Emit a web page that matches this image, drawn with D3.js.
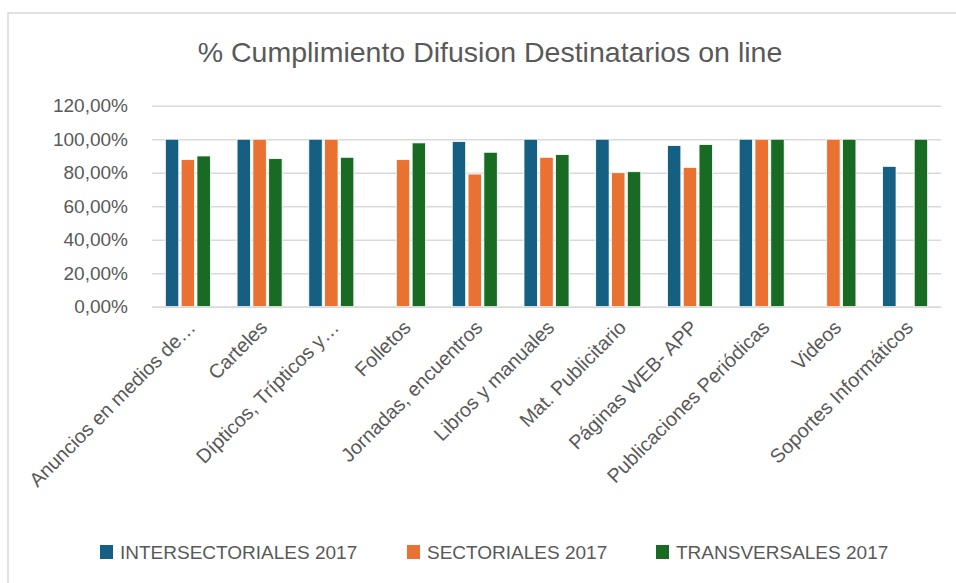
<!DOCTYPE html>
<html>
<head>
<meta charset="utf-8">
<script src="https://cdn.jsdelivr.net/npm/d3@7"></script>
<style>
  body { margin: 0; background: #fff; }
  text { font-family: "Liberation Sans", Arial, sans-serif; fill: #595959; }
</style>
</head>
<body>
<div id="container"></div>
<script>
/* CONSTANTS AND GLOBALS */
const width = 956, height = 583;
const margin = {top: 106, bottom: 277, left: 152, right: 15};

/* DATA */
const categories = ["Anuncios en medios de…", "Carteles", "Dípticos, Trípticos y…", "Folletos",
  "Jornadas, encuentros", "Libros y manuales", "Mat. Publicitario", "Páginas WEB- APP",
  "Publicaciones Periódicas", "Videos", "Soportes Informáticos"];
const seriesNames = ["INTERSECTORIALES 2017", "SECTORIALES 2017", "TRANSVERSALES 2017"];
// null = no bar
const intersectoriales = [1.00, 1.00, 1.00, null, 0.986, 1.00, 1.00, 0.962, 1.00, null, 0.838];
const sectoriales      = [0.878, 1.00, 1.00, 0.878, 0.792, 0.892, 0.80, 0.832, 1.00, 1.00, null];
const transversales    = [0.90, 0.884, 0.892, 0.978, 0.922, 0.908, 0.806, 0.968, 1.00, 1.00, 1.00];
const yTicks = [0, 0.2, 0.4, 0.6, 0.8, 1.0, 1.2];
const colors = ["#156082", "#E97132", "#196B24"];

const allSeries = [intersectoriales, sectoriales, transversales];
const rows = categories.map((c, i) => ({
  cat: c,
  vals: seriesNames.map((s, j) => ({series: s, value: allSeries[j][i]}))
}));

/* SVG */
const svg = d3.select("#container").append("svg")
  .attr("width", width).attr("height", height);

// outer frame
svg.append("rect")
  .attr("x", 8).attr("y", 13)
  .attr("width", 980).attr("height", 600)
  .attr("fill", "none").attr("stroke", "#d9d9d9").attr("stroke-width", 1.5);

// title
svg.append("text")
  .attr("x", 490).attr("y", 62)
  .attr("text-anchor", "middle")
  .attr("font-size", "28.5px")
  .text("% Cumplimiento Difusion Destinatarios on line");

/* SCALES */
const x0 = d3.scaleBand()
  .domain(categories)
  .range([margin.left, width - margin.right])
  .paddingInner(0.372).paddingOuter(0.186);

const x1 = d3.scaleBand()
  .domain(seriesNames)
  .range([0, x0.bandwidth()])
  .paddingInner(0.15);

const yScale = d3.scaleLinear()
  .domain([0, 1.2])
  .range([height - margin.bottom + 0.7, margin.top - 0.3]);

const colorScale = d3.scaleOrdinal().domain(seriesNames).range(colors);

/* GRID + Y AXIS */
const fmt = d => d3.format(".2f")(d * 100).replace(".", ",") + "%";
const yAxis = d3.axisLeft(yScale)
  .tickValues(yTicks)
  .tickSize(-(width - margin.right - margin.left))
  .tickFormat(fmt)
  .tickPadding(24);

const yAxisGroup = svg.append("g")
  .attr("transform", `translate(${margin.left},0)`)
  .call(yAxis);
yAxisGroup.select(".domain").remove();
yAxisGroup.selectAll("line").attr("stroke", "#d9d9d9").attr("stroke-width", 1.5);
yAxisGroup.selectAll("text")
  .attr("font-size", "19px")
  .attr("fill", "#595959")
  .style("font-family", "'Liberation Sans', Arial, sans-serif");

/* BARS */
const groups = svg.append("g").selectAll("g")
  .data(rows)
  .join("g")
  .attr("transform", d => `translate(${x0(d.cat)},0)`);

groups.selectAll("rect")
  .data(d => d.vals.filter(v => v.value !== null))
  .join("rect")
  .attr("x", d => x1(d.series))
  .attr("width", x1.bandwidth())
  .attr("y", d => yScale(d.value))
  .attr("height", d => yScale(0) - yScale(d.value))
  .attr("fill", d => colorScale(d.series))
  .attr("stroke", "#ffffff")
  .attr("stroke-width", 0.8);

/* X AXIS LABELS */
const xAxisGroup = svg.append("g")
  .attr("transform", `translate(0,${yScale(0)})`)
  .call(d3.axisBottom(x0).tickSize(0).tickPadding(0));
xAxisGroup.select(".domain").attr("stroke", "#d9d9d9").attr("stroke-width", 1.5);
xAxisGroup.selectAll("text")
  .attr("font-size", "19.8px")
  .attr("fill", "#595959")
  .style("font-family", "'Liberation Sans', Arial, sans-serif")
  .attr("text-anchor", "end")
  .attr("dy", "0")
  .attr("transform", "translate(9,22) rotate(-45)");

/* LEGEND */
const legendX = [100, 407, 656];
const legend = svg.append("g").selectAll("g")
  .data(seriesNames)
  .join("g")
  .attr("transform", (d, i) => `translate(${legendX[i]},545)`);
legend.append("rect")
  .attr("width", 13).attr("height", 14)
  .attr("fill", d => colorScale(d));
legend.append("text")
  .attr("x", 20).attr("y", 14)
  .attr("font-size", "19px")
  .text(d => d);
</script>
</body>
</html>
